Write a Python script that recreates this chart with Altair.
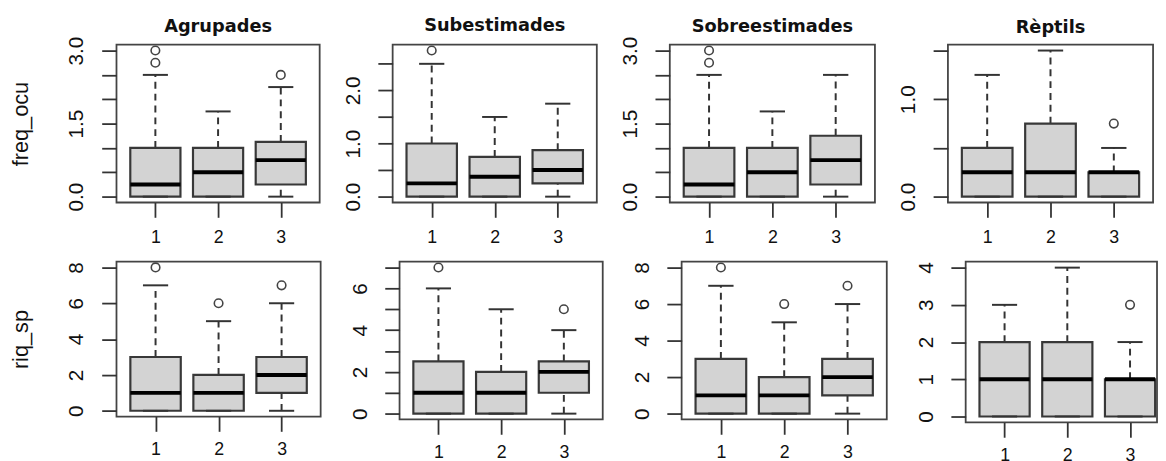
import altair as alt
import pandas as pd

groups = [1, 2, 3]
datasets = ["Agrupades", "Subestimades", "Sobreestimades", "Rèptils"]

# freq_ocu : per dataset, per group (1, 2, 3)
freq_lo = [[0, 0, 0], [0, 0, 0], [0, 0, 0], [0, 0, 0]]
freq_q1 = [[0, 0, 0.25], [0, 0, 0.25], [0, 0, 0.25], [0, 0, 0]]
freq_med = [[0.25, 0.5, 0.75], [0.25, 0.375, 0.5], [0.25, 0.5, 0.75], [0.25, 0.25, 0.25]]
freq_q3 = [[1.0, 1.0, 1.125], [1.0, 0.75, 0.875], [1.0, 1.0, 1.25], [0.5, 0.75, 0.25]]
freq_hi = [[2.5, 1.75, 2.25], [2.5, 1.5, 1.75], [2.5, 1.75, 2.5], [1.25, 1.5, 0.5]]
freq_out = [[[2.75, 3.0], [], [2.5]], [[2.75], [], []], [[2.75, 3.0], [], []], [[], [], [0.75]]]

# riq_sp
riq_lo = [[0, 0, 0], [0, 0, 0], [0, 0, 0], [0, 0, 0]]
riq_q1 = [[0, 0, 1], [0, 0, 1], [0, 0, 1], [0, 0, 0]]
riq_med = [[1, 1, 2], [1, 1, 2], [1, 1, 2], [1, 1, 1]]
riq_q3 = [[3, 2, 3], [2.5, 2, 2.5], [3, 2, 3], [2, 2, 1]]
riq_hi = [[7, 5, 6], [6, 5, 4], [7, 5, 6], [3, 4, 2]]
riq_out = [[[8], [6], [7]], [[7], [], [5]], [[8], [6], [7]], [[], [], [3]]]

# axis ticks and labelled ticks
freq_ticks = [[0, 0.5, 1, 1.5, 2, 2.5, 3], [0, 0.5, 1, 1.5, 2, 2.5],
              [0, 0.5, 1, 1.5, 2, 2.5, 3], [0, 0.5, 1, 1.5]]
freq_labels = [[0, 1.5, 3], [0, 1, 2], [0, 1.5, 3], [0, 1]]
riq_ticks = [[0, 2, 4, 6, 8], [0, 1, 2, 3, 4, 5, 6, 7], [0, 2, 4, 6, 8], [0, 1, 2, 3, 4]]
riq_labels = [[0, 2, 4, 6, 8], [0, 2, 4, 6], [0, 2, 4, 6, 8], [0, 1, 2, 3, 4]]

DARK = "#333333"
FONT = "Liberation Sans"
title_offsets = [-14, -6, -14, -6]


def panel(k, lo, q1, med, q3, hi, out, ticks, labels, fmt, w, h, ytitle, title, xpad, xmax):
    df = pd.DataFrame({"g": groups, "lo": lo[k], "q1": q1[k], "med": med[k],
                       "q3": q3[k], "hi": hi[k]})
    df["xl"] = df["g"] - 0.4
    df["xr"] = df["g"] + 0.4
    df["cl"] = df["g"] - 0.2
    df["cr"] = df["g"] + 0.2
    orows = [{"g": g, "v": v} for g, vs in zip(groups, out[k]) for v in vs]
    odf = pd.DataFrame(orows if orows else [{"g": 1, "v": None}])

    allv = list(lo[k]) + list(hi[k]) + [r["v"] for r in orows]
    mn, mx = min(allv), max(allv)
    pad = 0.04 * (mx - mn)
    xs = alt.Scale(domain=[0.38, xmax], nice=False, zero=False)
    ys = alt.Scale(domain=[mn - pad, mx + pad], nice=False, zero=False)

    lab_list = "[" + ",".join(str(v) for v in labels[k]) + "]"
    yaxis_kw = dict(
        values=ticks[k],
        labelExpr=f"indexof({lab_list}, datum.value) >= 0 ? format(datum.value, '{fmt}') : ''",
        labelAngle=270, labelAlign="center", labelBaseline="alphabetic",
        labelPadding=19, labelFontSize=21, labelFont=FONT, labelColor="#111111",
        labelOverlap=False, labelFlush=False,
        tickSize=15, tickWidth=1.8, tickColor=DARK, domain=False, grid=False,
        title=ytitle,
    )
    if ytitle:
        yaxis_kw.update(titleAngle=270, titleX=-85, titleY=h / 2, titleAlign="center",
                        titleBaseline="bottom", titleFontSize=22, titleFont=FONT,
                        titleFontWeight="normal", titleColor="#111111")
    yaxis = alt.Axis(**yaxis_kw)
    xaxis = alt.Axis(values=[1, 2, 3], format="d", labelAngle=0, labelFontSize=18,
                     labelFont=FONT, labelColor="#111111", labelPadding=xpad,
                     labelBaseline="top", labelOverlap=False, labelFlush=False,
                     tickSize=15, tickWidth=1.8, tickColor=DARK, domain=False,
                     grid=False, title=None)

    def X(f):
        return alt.X(f, scale=xs, axis=xaxis)

    def Y(f):
        return alt.Y(f, scale=ys, axis=yaxis)

    base = alt.Chart(df)
    whisk_up = base.mark_rule(color=DARK, strokeWidth=2, strokeDash=[7, 5]).encode(
        x=X("g:Q"), y=Y("q3:Q"), y2="hi:Q")
    whisk_lo = base.mark_rule(color=DARK, strokeWidth=2, strokeDash=[7, 5]).encode(
        x=X("g:Q"), y=Y("lo:Q"), y2="q1:Q")
    box = base.mark_rect(fill="#d3d3d3", stroke="#383838", strokeWidth=2.2).encode(
        x=X("xl:Q"), x2="xr:Q", y=Y("q1:Q"), y2="q3:Q")
    median = base.mark_rule(color="black", strokeWidth=4).encode(
        x=X("xl:Q"), x2="xr:Q", y=Y("med:Q"))
    cap_hi = base.mark_rule(color=DARK, strokeWidth=2).encode(
        x=X("cl:Q"), x2="cr:Q", y=Y("hi:Q"))
    cap_lo = base.mark_rule(color=DARK, strokeWidth=2).encode(
        x=X("cl:Q"), x2="cr:Q", y=Y("lo:Q"))
    pts = alt.Chart(odf).mark_point(shape="circle", filled=False, size=75,
                                    stroke="#444444", strokeWidth=1.6, opacity=1).encode(
        x=X("g:Q"), y=Y("v:Q"))

    props = dict(width=w, height=h)
    if title:
        props["title"] = alt.Title(title, font="DejaVu Sans", fontSize=18, fontWeight="bold",
                                   color="#111111", anchor="middle", baseline="alphabetic",
                                   offset=title_offsets[k], frame="group")
    return alt.layer(whisk_up, whisk_lo, box, median, cap_hi, cap_lo, pts).properties(**props)


top_w = [206, 207, 208, 208]
bot_w = [207, 206, 208, 194]
bot_h = [157, 160, 160, 163]
bot_xmax = [3.62, 3.62, 3.62, 3.43]

row1 = alt.hconcat(*[
    panel(k, freq_lo, freq_q1, freq_med, freq_q3, freq_hi, freq_out, freq_ticks, freq_labels,
          ".1f", top_w[k], 160, "freq_ocu" if k == 0 else None, datasets[k], 12, 3.62)
    for k in range(4)], spacing=21)

row2 = alt.hconcat(*[
    panel(k, riq_lo, riq_q1, riq_med, riq_q3, riq_hi, riq_out, riq_ticks, riq_labels,
          "d", bot_w[k], bot_h[k], "riq_sp" if k == 0 else None, None, 10, bot_xmax[k])
    for k in range(4)], spacing=27)

chart = alt.vconcat(row1, row2, spacing=11).properties(
    padding={"left": 1, "top": 5, "right": 0, "bottom": 0}, background="white"
).configure_view(stroke="#444444", strokeWidth=1.8)

chart.save("out.html", embed_options={"renderer": "svg", "actions": False})
